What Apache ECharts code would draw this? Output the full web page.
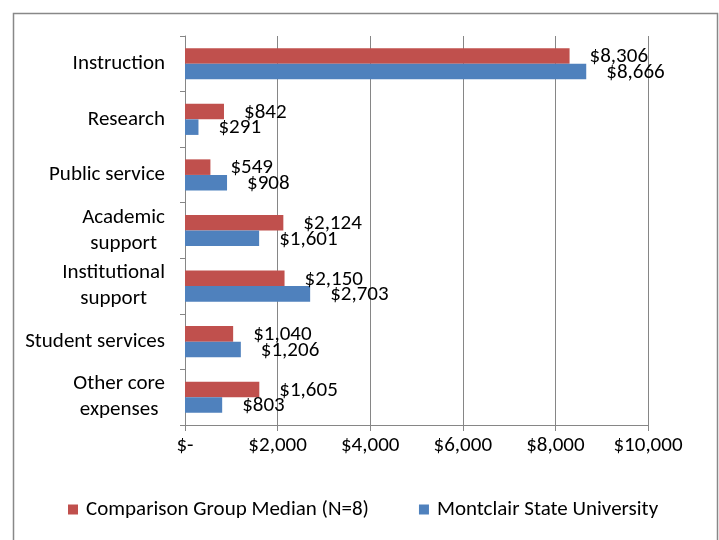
<!DOCTYPE html>
<html><head><meta charset="utf-8">
<script src="https://cdn.jsdelivr.net/npm/echarts@6/dist/echarts.min.js"></script>
<style>html,body{margin:0;padding:0;background:#fff}#c{width:719px;height:540px}</style>
</head><body><div id="c"></div>
<script>
var categories = ['Instruction', 'Research', 'Public service', 'Academic\nsupport', 'Institutional\nsupport', 'Student services', 'Other core\nexpenses'];
var comparisonValues = [8306, 842, 549, 2124, 2150, 1040, 1605];
var montclairValues = [8666, 291, 908, 1601, 2703, 1206, 803];
var seriesNames = ['Comparison Group Median (N=8)', 'Montclair State University'];
var xTicks = [0, 2000, 4000, 6000, 8000, 10000];

var FONT = 'Carlito, Lato, sans-serif';
var FS = 21;
function money(v){ return v === 0 ? '$-' : '$' + v.toLocaleString('en-US'); }

var chart = echarts.init(document.getElementById('c'), null, {renderer:'canvas'});
var labelCommon = {show:true, position:'right', distance:20, offset:[0,1], fontFamily:FONT, fontSize:FS, color:'#000',
  formatter:function(p){return money(p.value);}};
chart.setOption({
  animation:false,
  backgroundColor:'#fff',
  graphic:[{type:'rect', shape:{x:13.5, y:13.5, width:704, height:560}, style:{fill:'none', stroke:'#888', lineWidth:1.5}, silent:true}],
  grid:{left:185, right:71, top:36, bottom:115, containLabel:false},
  legend:{left:68, top:499, padding:0, itemWidth:10, itemHeight:10, itemGap:50, icon:'rect',
    textStyle:{fontFamily:FONT, fontSize:FS, color:'#000', padding:[0,0,0,3]}, data:seriesNames},
  xAxis:{type:'value', min:xTicks[0], max:xTicks[xTicks.length-1], interval:2000,
    axisLine:{show:true, lineStyle:{color:'#868686', width:1}},
    axisTick:{show:true, length:6, lineStyle:{color:'#868686'}},
    splitLine:{show:true, lineStyle:{color:'#868686', width:1}},
    axisLabel:{margin:10, fontFamily:FONT, fontSize:FS, color:'#000', formatter:function(v){return money(v);}}},
  yAxis:{type:'category', inverse:true, data:categories,
    axisLine:{show:true, lineStyle:{color:'#868686', width:1}},
    axisTick:{show:true, length:5, inside:false, lineStyle:{color:'#868686'}},
    axisLabel:{margin:20, align:'right', lineHeight:26, fontFamily:FONT, fontSize:FS, color:'#000',
      formatter:function(v){return v.split('\n').map(function(s){return '{c|'+s+'}';}).join('\n');},
      rich:{c:{align:'center', fontFamily:FONT, fontSize:FS, color:'#000', lineHeight:26}}}},
  series:[
    {name:seriesNames[0], type:'bar', data:comparisonValues, barGap:'0%', barCategoryGap:'44%',
     itemStyle:{color:'#C0504D'}, label:labelCommon},
    {name:seriesNames[1], type:'bar', data:montclairValues, barGap:'0%', barCategoryGap:'44%',
     itemStyle:{color:'#4F81BD'}, label:labelCommon}
  ]
});
</script></body></html>
